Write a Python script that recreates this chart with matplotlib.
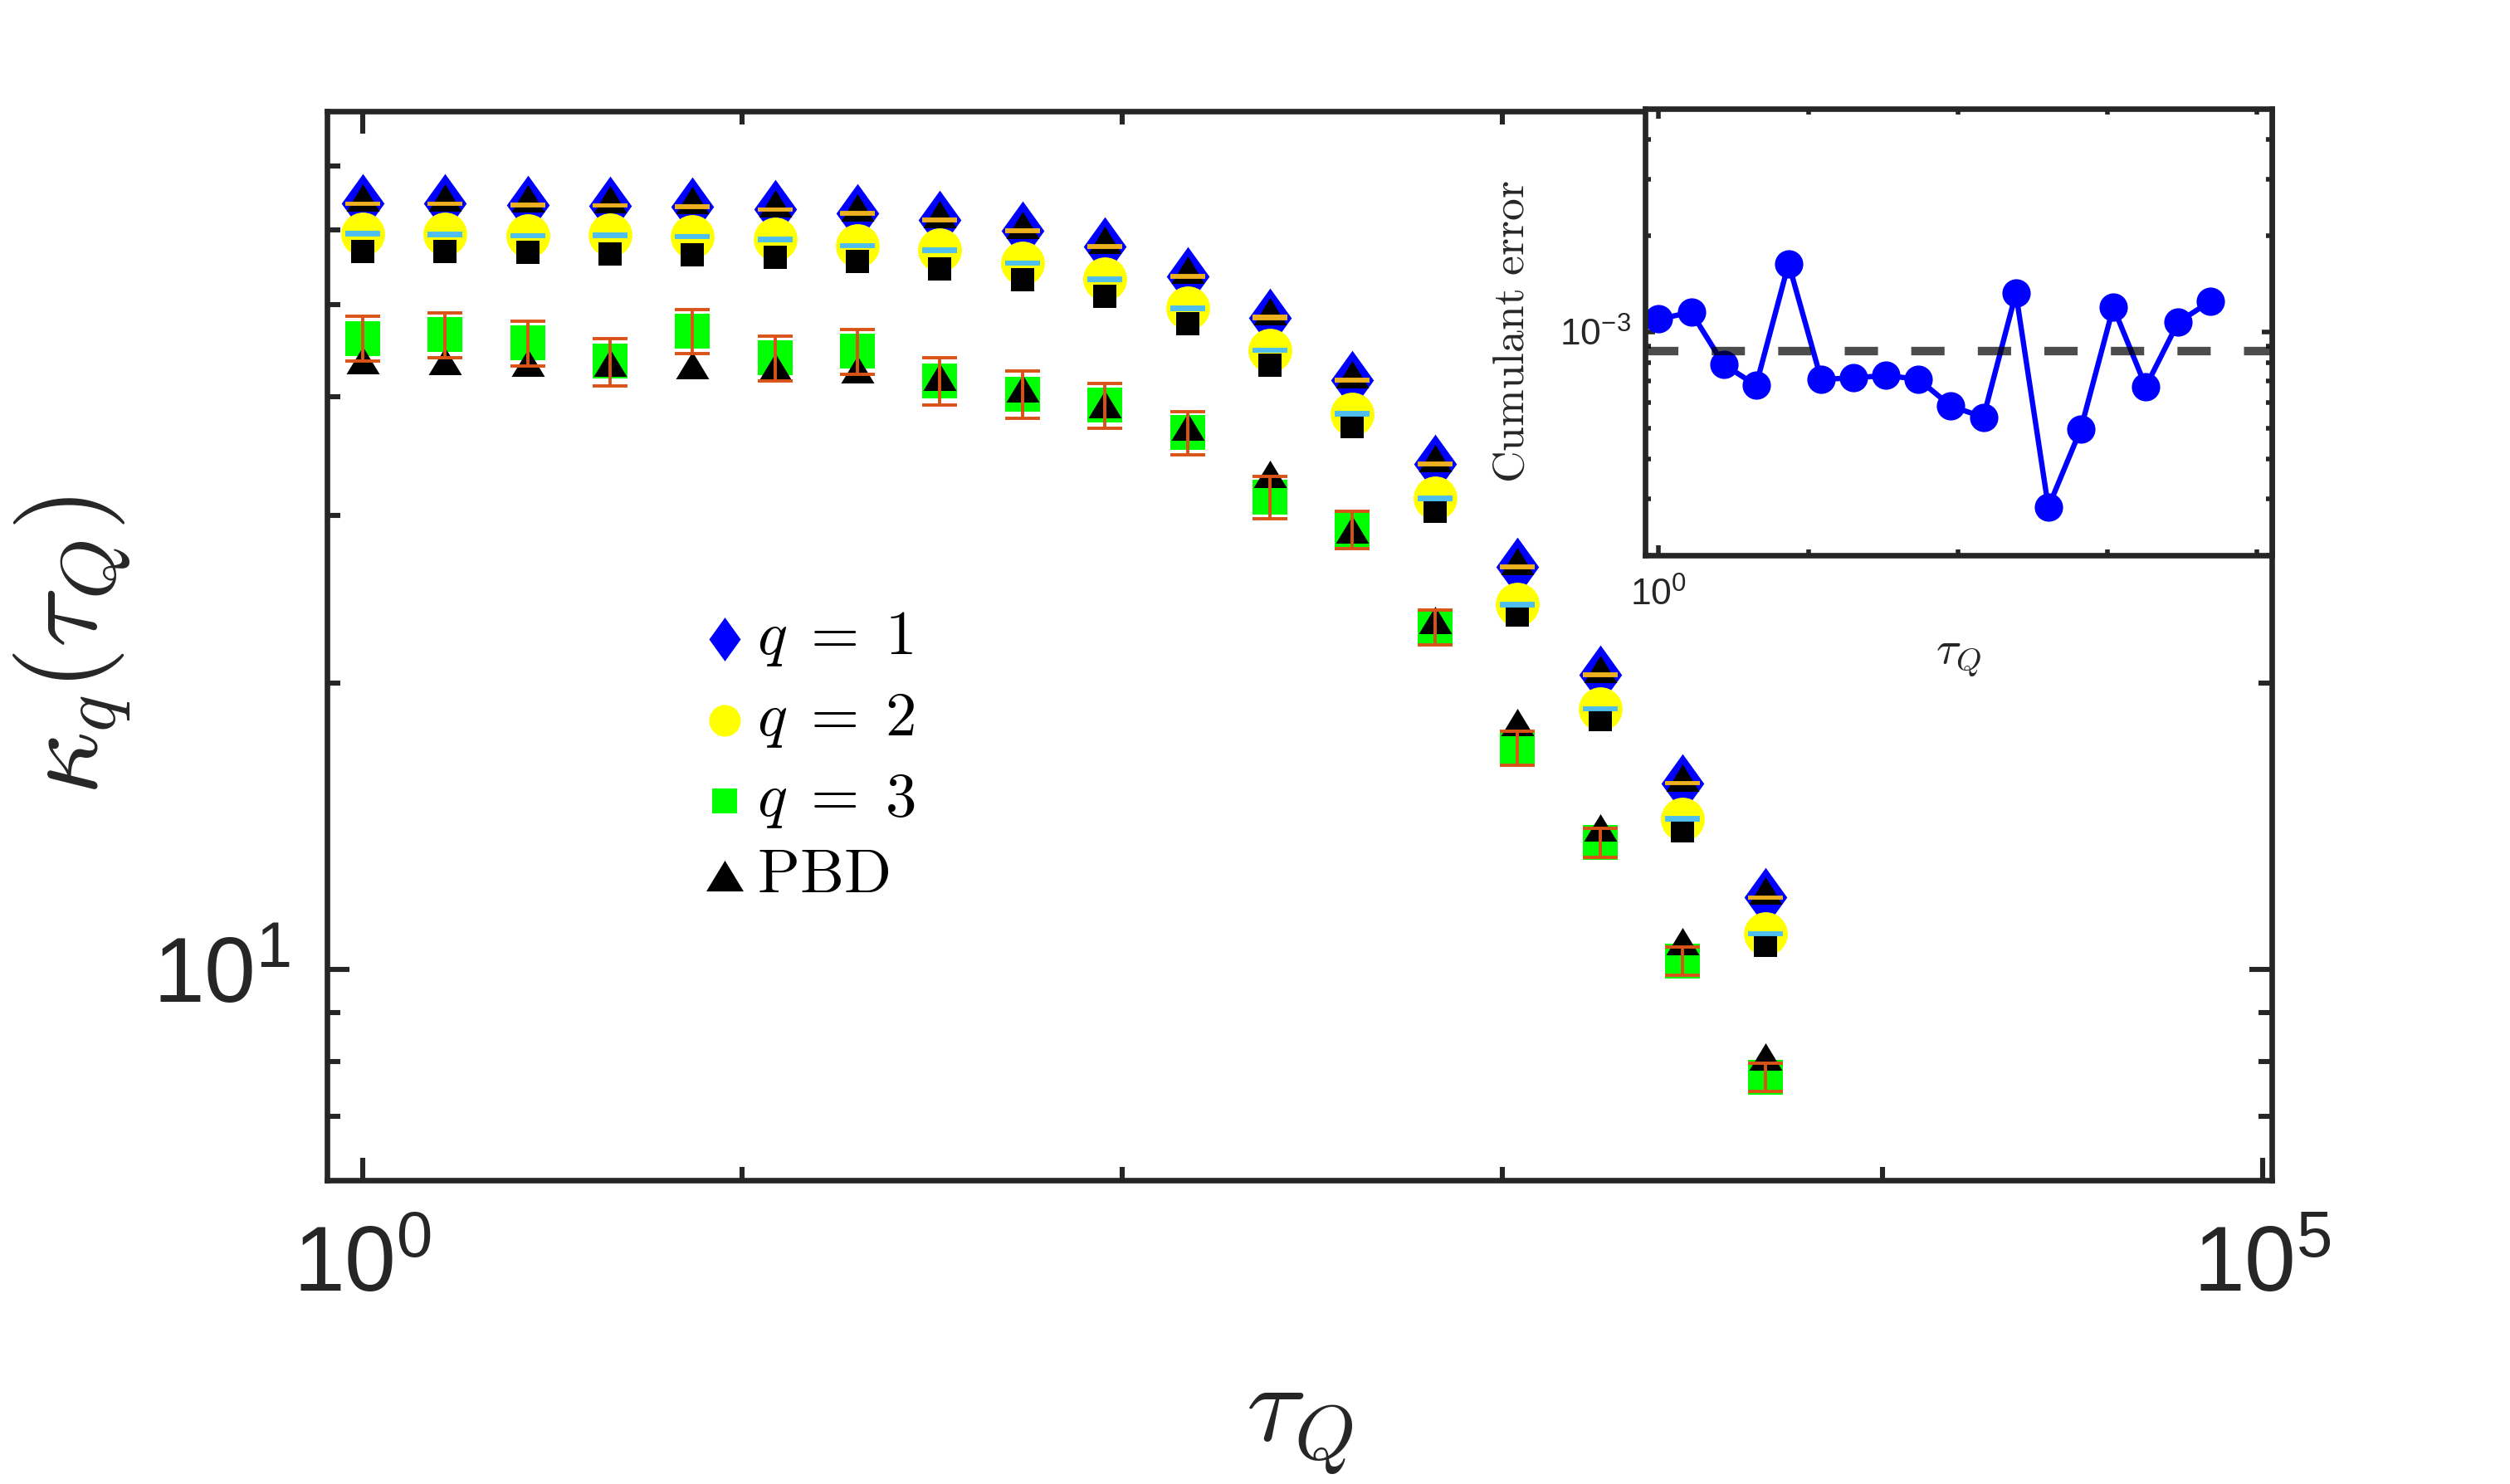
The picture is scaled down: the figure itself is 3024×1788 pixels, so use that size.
import matplotlib
matplotlib.use("Agg")
import matplotlib.pyplot as plt
from matplotlib.ticker import FixedLocator, FixedFormatter, NullFormatter

plt.rcParams['font.family'] = ['Liberation Sans', 'DejaVu Sans']
plt.rcParams['mathtext.fontset'] = 'cm'

# quench times, shared by the main panel and the inset
tau_q = [1.0, 1.65, 2.72, 4.48, 7.39, 12.2, 20.1, 33.1, 54.6, 90.0,
         148.4, 244.7, 403.4, 665.1, 1096.6, 1808.0, 2981.0, 4914.8]

# kappa_q(tau_Q)
kappa_1 = [63.9, 63.9, 63.7, 63.6, 63.4, 63.0, 62.4, 61.4, 59.8, 57.6,
           53.6, 48.5, 41.7, 34.0, 26.5, 20.4, 15.7, 11.9]
err_1 = [0.1, 0.1, 0.1, 0.1, 0.1, 0.1, 0.1, 0.1, 0.1, 0.1,
         0.1, 0.1, 0.08, 0.07, 0.05, 0.04, 0.03, 0.02]
kappa_2 = [59.4, 59.3, 59.1, 59.2, 59.0, 58.6, 57.7, 57.1, 55.3, 53.2,
           49.6, 44.8, 38.4, 31.3, 24.2, 18.8, 14.4, 10.9]
err_2 = [0.15, 0.15, 0.15, 0.15, 0.15, 0.15, 0.15, 0.15, 0.14, 0.13,
         0.12, 0.11, 0.1, 0.08, 0.06, 0.05, 0.04, 0.03]
kappa_3 = [46.1, 46.5, 45.6, 43.6, 46.9, 44.0, 44.7, 41.6, 40.3, 39.2,
           36.7, 31.4, 29.0, 22.9, 17.1, 13.6, 10.2, 7.7]
err_3 = [2.5, 2.5, 2.5, 2.5, 2.5, 2.4, 2.4, 2.4, 2.3, 2.1,
         1.9, 1.6, 1.3, 0.97, 0.69, 0.48, 0.35, 0.26]

# PBD reference values (triangles; black squares sit on the q=2 points)
pbd_1 = [64.9, 64.9, 64.7, 64.6, 64.4, 63.9, 63.3, 62.3, 60.7, 58.5,
         54.4, 49.2, 42.3, 34.5, 26.9, 20.7, 15.9, 12.1]
pbd_2 = [56.9, 56.9, 56.8, 56.6, 56.5, 56.1, 55.6, 54.6, 53.1, 51.1,
         47.8, 43.2, 37.2, 30.3, 23.6, 18.3, 14.0, 10.6]
pbd_3 = [43.7, 43.6, 43.5, 43.5, 43.2, 43.0, 42.8, 42.0, 40.8, 39.3,
         37.2, 33.2, 29.0, 23.3, 18.2, 14.1, 10.7, 8.1]

# inset: cumulant error
cum_err = [1.096e-3, 1.152e-3, 7.90e-4, 6.80e-4, 1.637e-3, 7.10e-4, 7.17e-4,
           7.30e-4, 7.10e-4, 5.85e-4, 5.40e-4, 1.321e-3, 2.82e-4, 4.96e-4,
           1.195e-3, 6.73e-4, 1.073e-3, 1.247e-3]
err_level = 8.7e-4

legend_labels = [r'$q\;=\;1$', r'$q\;=\;2$', r'$q\;=\;3$', r'$\mathrm{PBD}$']

# ticks
main_x_major = [1, 1e5]
main_x_labels = [r'$\mathregular{10^{0}}$', r'$\mathregular{10^{5}}$']
main_x_minor = [10, 100, 1e3, 1e4]
main_y_major = [10]
main_y_labels = [r'$\mathregular{10^{1}}$']
main_y_minor = [7, 8, 9, 20, 30, 40, 50, 60, 70]
in_x_major = [1]
in_x_labels = [r'$\mathregular{10^{0}}$']
in_x_minor = [10, 100, 1e3, 1e4]
in_y_major = [1e-3]
in_y_labels = [r'$\mathregular{10^{-3}}$']
in_y_minor = [2e-4, 3e-4, 4e-4, 5e-4, 6e-4, 7e-4, 8e-4, 9e-4, 2e-3, 3e-3, 4e-3]

# marker shapes (MATLAB-like tall diamond and wide triangle)
diamond = [(0, 0.5), (0.36, 0), (0, -0.5), (-0.36, 0), (0, 0.5)]
triangle = [(0, 0.4125), (0.5, -0.4125), (-0.5, -0.4125), (0, 0.4125)]

dark = '#262626'
fig = plt.figure(figsize=(15.12, 8.94), dpi=200)
ax = fig.add_axes([0.1303, 0.2047, 0.7748, 0.7206])

# q = 1
ax.plot(tau_q, kappa_1, ls='none', marker=diamond, ms=25.8, color='#0000FF', mew=0)
ax.plot(tau_q, pbd_1, ls='none', marker=triangle, ms=14.4, color='black', mew=0)
ax.errorbar(tau_q, kappa_1, yerr=err_1, fmt='none', ecolor='#EDB120',
            elinewidth=1.4, capsize=7.4, capthick=1.4)
# q = 2
ax.plot(tau_q, kappa_2, ls='none', marker='o', ms=19, color='#FFFF00', mew=0)
ax.plot(tau_q, pbd_2, ls='none', marker='s', ms=10, color='black', mew=0)
ax.errorbar(tau_q, kappa_2, yerr=err_2, fmt='none', ecolor='#4DBEEE',
            elinewidth=1.4, capsize=7.4, capthick=1.4)
# q = 3
ax.plot(tau_q, kappa_3, ls='none', marker='s', ms=15.1, color='#00FF00', mew=0)
ax.plot(tau_q, pbd_3, ls='none', marker=triangle, ms=14.4, color='black', mew=0)
ax.errorbar(tau_q, kappa_3, yerr=err_3, fmt='none', ecolor='#D95319',
            elinewidth=1.4, capsize=7.4, capthick=1.4)

ax.set_xscale('log')
ax.set_yscale('log')
ax.set_xlim(10 ** -0.093, 10 ** 5.025)
ax.set_ylim(6, 80)
ax.xaxis.set_major_locator(FixedLocator(main_x_major))
ax.xaxis.set_major_formatter(FixedFormatter(main_x_labels))
ax.xaxis.set_minor_locator(FixedLocator(main_x_minor))
ax.xaxis.set_minor_formatter(NullFormatter())
ax.yaxis.set_major_locator(FixedLocator(main_y_major))
ax.yaxis.set_major_formatter(FixedFormatter(main_y_labels))
ax.yaxis.set_minor_locator(FixedLocator(main_y_minor))
ax.yaxis.set_minor_formatter(NullFormatter())
ax.tick_params(which='both', direction='in', top=True, right=True,
               color=dark, labelcolor=dark, width=2.2)
ax.tick_params(which='major', length=9.8, labelsize=40)
ax.tick_params(which='minor', length=5.6)
ax.tick_params(axis='x', which='major', pad=19)
ax.tick_params(axis='y', which='major', pad=16)
for sp in ax.spines.values():
    sp.set_linewidth(2.4)
    sp.set_color(dark)

ax.set_xlabel(r'$\tau_Q$', fontsize=48, color=dark)
ax.xaxis.set_label_coords(0.5, -0.18)
ax.set_ylabel(r'$\kappa_q(\tau_Q)$', fontsize=48, color=dark)
ax.yaxis.set_label_coords(-0.0999, 0.5)

# legend drawn by hand to place it like the original
leg_rows = [0.5060, 0.4300, 0.3547, 0.2848]
leg_styles = [dict(marker=diamond, ms=19, color='#0000FF'),
              dict(marker='o', ms=13.7, color='#FFFF00'),
              dict(marker='s', ms=10.8, color='#00FF00'),
              dict(marker=triangle, ms=16.2, color='black')]
for y, lab, st in zip(leg_rows, legend_labels, leg_styles):
    ax.plot([0.2044], [y], ls='none', mew=0, transform=ax.transAxes,
            clip_on=False, **st)
    ax.text(0.2210, y, lab, transform=ax.transAxes, fontsize=27,
            ha='left', va='center', color='black')

# inset
ax_in = fig.add_axes([0.6553, 0.6261, 0.2498, 0.3006])
ax_in.plot(tau_q, cum_err, '-o', color='#0000FF', lw=2.3, ms=12.3, mew=0)
ax_in.axhline(err_level, color='black', alpha=0.7, lw=3.7, ls=(0, (3.9, 3.9)))
ax_in.set_xscale('log')
ax_in.set_yscale('log')
ax_in.set_xlim(10 ** -0.093, 10 ** 4.1)
ax_in.set_ylim(2e-4, 5e-3)
ax_in.xaxis.set_major_locator(FixedLocator(in_x_major))
ax_in.xaxis.set_major_formatter(FixedFormatter(in_x_labels))
ax_in.xaxis.set_minor_locator(FixedLocator(in_x_minor))
ax_in.xaxis.set_minor_formatter(NullFormatter())
ax_in.yaxis.set_major_locator(FixedLocator(in_y_major))
ax_in.yaxis.set_major_formatter(FixedFormatter(in_y_labels))
ax_in.yaxis.set_minor_locator(FixedLocator(in_y_minor))
ax_in.yaxis.set_minor_formatter(NullFormatter())
ax_in.tick_params(which='both', direction='in', top=True, right=True,
                  color=dark, labelcolor=dark, width=2.0)
ax_in.tick_params(which='major', length=4.2, labelsize=16)
ax_in.tick_params(which='minor', length=2.4)
ax_in.tick_params(axis='x', which='major', pad=9.9)
ax_in.tick_params(axis='y', which='major', pad=6)
for sp in ax_in.spines.values():
    sp.set_linewidth(2.4)
    sp.set_color(dark)
ax_in.set_xlabel(r'$\tau_Q$', fontsize=20, color=dark)
ax_in.xaxis.set_label_coords(0.5, -0.18)
ax_in.set_ylabel(r'$\mathrm{Cumulant\ error}$', fontsize=19.3, color=dark)
ax_in.yaxis.set_label_coords(-0.178, 0.5)

fig.savefig('out.png', dpi=200)
